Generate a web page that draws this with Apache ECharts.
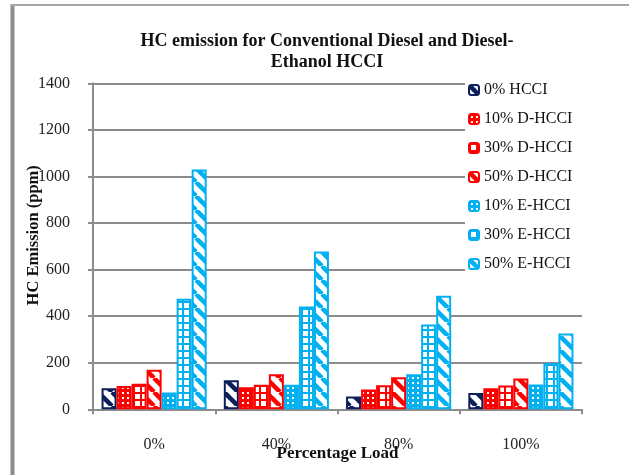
<!DOCTYPE html>
<html>
<head>
<meta charset="utf-8">
<script src="https://cdn.jsdelivr.net/npm/echarts@6/dist/echarts.min.js"></script>
<style>
html,body{margin:0;padding:0;background:#fff;}
#chart{width:629px;height:475px;}
</style>
</head>
<body>
<div id="chart"></div>
<script>
// ---- data ----
var categories = ['0%', '40%', '80%', '100%'];
var seriesNames = ['0% HCCI', '10% D-HCCI', '30% D-HCCI', '50% D-HCCI', '10% E-HCCI', '30% E-HCCI', '50% E-HCCI'];
var hcci0 = [90, 125, 55, 70];
var dHcci10 = [100, 95, 85, 90];
var dHcci30 = [110, 105, 103, 102];
var dHcci50 = [170, 150, 138, 132];
var eHcci10 = [72, 105, 150, 107];
var eHcci30 = [475, 442, 364, 198];
var eHcci50 = [1030, 678, 488, 325];
var yTicks = [0, 200, 400, 600, 800, 1000, 1200, 1400];

// ---- patterns ----
var NAVY = '#0c1f5a', RED = '#ff0000', CYAN = '#00b0f0';
function mk(size, draw) {
  var c = document.createElement('canvas');
  c.width = size; c.height = size;
  var g = c.getContext('2d');
  draw(g, size);
  return { image: c, repeat: 'repeat' };
}
function diag(color) {
  return mk(14, function (g, s) {
    g.fillStyle = '#fff'; g.fillRect(0, 0, s, s);
    g.strokeStyle = color; g.lineWidth = 4.5;
    for (var k = -s; k <= s; k += s) {
      g.beginPath(); g.moveTo(k, 0); g.lineTo(k + s, s); g.stroke();
    }
  });
}
function smallGrid(color) {
  return mk(5, function (g, s) {
    g.fillStyle = color; g.fillRect(0, 0, s, s);
    g.fillStyle = '#fff'; g.fillRect(2, 2, 2, 2);
  });
}
function largeGrid(color) {
  return mk(7, function (g, s) {
    g.fillStyle = color; g.fillRect(0, 0, s, s);
    g.fillStyle = '#fff'; g.fillRect(2, 2, 5, 5);
  });
}

var dataList = [hcci0, dHcci10, dHcci30, dHcci50, eHcci10, eHcci30, eHcci50];
var borders = [NAVY, RED, RED, RED, CYAN, CYAN, CYAN];
var fills = [diag(NAVY), smallGrid(RED), largeGrid(RED), diag(RED), smallGrid(CYAN), largeGrid(CYAN), diag(CYAN)];

var series = dataList.map(function (d, i) {
  return {
    name: seriesNames[i],
    type: 'bar',
    data: d,
    barGap: '0%',
    barCategoryGap: '14%',
    itemStyle: { color: fills[i], borderColor: borders[i], borderWidth: 2 },
    emphasis: { disabled: true }
  };
});

var SERIF = '"Liberation Serif", "Times New Roman", serif';
var chart = echarts.init(document.getElementById('chart'), null, { renderer: 'canvas' });
chart.setOption({
  animation: false,
  backgroundColor: '#fff',
  textStyle: { fontFamily: SERIF },
  grid: { left: 93, right: 47, top: 83.3, bottom: 65.7, containLabel: false, outerBoundsMode: 'none' },
  graphic: [
    { type: 'line', shape: { x1: 12.5, y1: 4, x2: 12.5, y2: 480 }, style: { stroke: '#8c8c8c', lineWidth: 4 } },
    { type: 'line', shape: { x1: 11, y1: 5, x2: 640, y2: 5 }, style: { stroke: '#a6a6a6', lineWidth: 2 } },
    {
      type: 'text', x: 327, y: 31,
      style: {
        text: 'HC emission for Conventional Diesel and Diesel-\nEthanol HCCI',
        font: 'bold 18px ' + SERIF, fill: '#111', align: 'center', lineHeight: 21
      }
    }
  ],
  legend: {
    orient: 'vertical',
    left: 465, top: 75,
    padding: [6, 12, 6, 3],
    itemWidth: 10, itemHeight: 10,
    itemGap: 11,
    backgroundColor: '#fff',
    textStyle: { fontFamily: SERIF, fontSize: 16, color: '#111', lineHeight: 18 },
    data: seriesNames
  },
  xAxis: {
    type: 'category',
    data: categories,
    axisLine: { lineStyle: { color: '#8c8c8c', width: 2 } },
    axisTick: { show: true, length: 5, lineStyle: { color: '#8c8c8c', width: 2 } },
    axisLabel: { margin: 27, fontSize: 16, color: '#222', fontFamily: SERIF },
    name: 'Percentage Load',
    nameLocation: 'middle',
    nameGap: 36,
    nameMoveOverlap: false,
    nameTextStyle: { fontSize: 17, fontWeight: 'bold', color: '#111', fontFamily: SERIF }
  },
  yAxis: {
    type: 'value',
    min: 0, max: 1400, interval: 200,
    axisLine: { show: true, lineStyle: { color: '#8c8c8c', width: 2 } },
    axisTick: { show: true, length: 5, lineStyle: { color: '#8c8c8c', width: 2 } },
    splitLine: { lineStyle: { color: '#8c8c8c', width: 2 } },
    axisLabel: {
      margin: 23, fontSize: 16, color: '#222', fontFamily: SERIF,
      formatter: function (v) { return yTicks.indexOf(v) >= 0 ? String(v) : ''; }
    },
    name: 'HC Emission (ppm)',
    nameLocation: 'middle',
    nameGap: 51,
    nameMoveOverlap: false,
    nameTextStyle: { fontSize: 16.5, fontWeight: 'bold', color: '#111', fontFamily: SERIF, padding: [0, 0, 0, 22] }
  },
  series: series
});
</script>
</body>
</html>
